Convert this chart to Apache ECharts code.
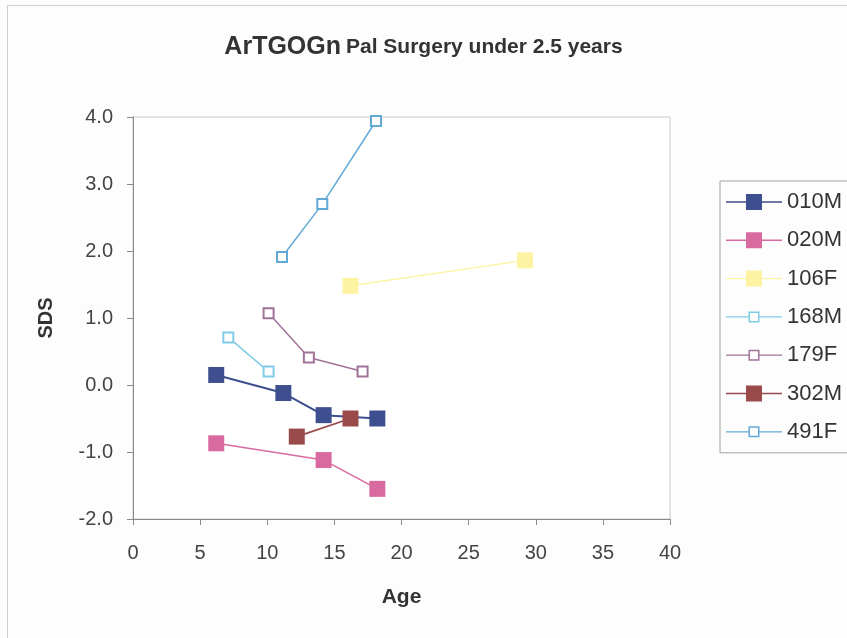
<!DOCTYPE html>
<html>
<head>
<meta charset="utf-8">
<script src="https://cdn.jsdelivr.net/npm/echarts@6/dist/echarts.min.js"></script>
<style>
html,body{margin:0;padding:0;background:#fdfdfd;overflow:hidden;}
#wrap{position:relative;width:847px;height:638px;}
#chart{position:absolute;left:0;top:0;width:847px;height:638px;}
#frame{position:absolute;left:7px;top:5px;width:900px;height:700px;border:1px solid #cfcfcf;pointer-events:none;}
</style>
</head>
<body>
<div id="wrap"><div id="chart"></div><div id="frame"></div></div>
<script>
// ---- data ----
const seriesNames = ['010M', '020M', '106F', '168M', '179F', '302M', '491F'];
const age_010M = [6.2, 11.2, 14.2, 18.2];
const sds_010M = [0.15, -0.12, -0.45, -0.50];
const age_020M = [6.2, 14.2, 18.2];
const sds_020M = [-0.87, -1.12, -1.55];
const age_106F = [16.2, 29.2];
const sds_106F = [1.48, 1.86];
const age_168M = [7.1, 10.1];
const sds_168M = [0.71, 0.20];
const age_179F = [10.1, 13.1, 17.1];
const sds_179F = [1.07, 0.41, 0.20];
const age_302M = [12.2, 16.2];
const sds_302M = [-0.77, -0.50];
const age_491F = [11.1, 14.1, 18.1];
const sds_491F = [1.91, 2.70, 3.94];
const xTicks = [0, 5, 10, 15, 20, 25, 30, 35, 40];
const yTicks = [-2, -1, 0, 1, 2, 3, 4];

const ages = {'010M': age_010M, '020M': age_020M, '106F': age_106F, '168M': age_168M, '179F': age_179F, '302M': age_302M, '491F': age_491F};
const sdss = {'010M': sds_010M, '020M': sds_020M, '106F': sds_106F, '168M': sds_168M, '179F': sds_179F, '302M': sds_302M, '491F': sds_491F};

// ---- styles ----
const colors = {'010M': '#3d4f8e', '020M': '#d96aa0', '106F': '#fdf3a2', '168M': '#80cbe6', '179F': '#a07399', '302M': '#9b4a4c', '491F': '#62aad6'};
const filled = {'010M': true, '020M': true, '106F': true, '168M': false, '179F': false, '302M': true, '491F': false};
const lineW = {'010M': 2, '020M': 1.5, '106F': 1.5, '168M': 1.5, '179F': 1.5, '302M': 1.8, '491F': 1.5};

const iconFilled = 'path://M0 0Z M56 16Z M0 7.3H20V8.7H0Z M36 7.3H56V8.7H36Z M20 0H36V16H20Z';
const iconOpen = 'path://M0 0Z M56 16Z M0 7.4H22.5V8.6H0Z M33.5 7.4H56V8.6H33.5Z M22.5 2.5H33.5V13.5H22.5Z M24 4V12H32V4Z';

const series = seriesNames.map(function (n) {
  const data = ages[n].map(function (a, i) { return [a, sdss[n][i]]; });
  return {
    name: n,
    type: 'line',
    data: data,
    symbol: filled[n] ? 'rect' : 'emptyRect',
    symbolSize: filled[n] ? 16 : 10,
    showAllSymbol: true,
    lineStyle: {color: colors[n], width: lineW[n]},
    itemStyle: filled[n] ? {color: colors[n], borderWidth: 0} : {color: colors[n], borderColor: colors[n], borderWidth: 1.6},
    emphasis: {disabled: true},
    animation: false
  };
});

const chart = echarts.init(document.getElementById('chart'), null, {renderer: 'canvas'});
chart.setOption({
  backgroundColor: '#fdfdfd',
  animation: false,
  title: {
    left: 'center',
    top: 30,
    text: '{a|ArTGOGn} {b|Pal Surgery under 2.5 years}',
    textStyle: {
      rich: {
        a: {fontFamily: 'Liberation Sans', fontWeight: 'bold', fontSize: 25, color: '#333'},
        b: {fontFamily: 'Liberation Sans', fontWeight: 'bold', fontSize: 21, color: '#333'}
      }
    }
  },
  grid: {left: 133, top: 117, width: 537, height: 402, show: true, borderColor: '#c8c8c8', borderWidth: 1, backgroundColor: '#ffffff', containLabel: false},
  legend: {
    orient: 'vertical',
    left: 720,
    top: 181,
    itemWidth: 56,
    itemHeight: 16,
    itemGap: 16.3,
    padding: [10, 40, 10, 6],
    borderColor: '#a0a0a0',
    borderWidth: 1,
    backgroundColor: '#fdfdfd',
    selectedMode: false,
    textStyle: {fontFamily: 'Liberation Sans', fontSize: 22, color: '#333', padding: [0, 0, 0, 0]},
    data: seriesNames.map(function (n) {
      return {name: n, icon: filled[n] ? iconFilled : iconOpen, itemStyle: {color: colors[n], borderWidth: 0}};
    })
  },
  xAxis: {
    type: 'value',
    min: xTicks[0],
    max: xTicks[xTicks.length - 1],
    interval: 5,
    name: 'Age',
    nameLocation: 'middle',
    nameGap: 68,
    nameTextStyle: {fontFamily: 'Liberation Sans', fontWeight: 'bold', fontSize: 21, color: '#333'},
    axisLine: {show: true, onZero: false, lineStyle: {color: '#8a8a8a', width: 1}},
    axisTick: {show: true, inside: false, length: 6, lineStyle: {color: '#8a8a8a'}},
    axisLabel: {margin: 24, fontFamily: 'Liberation Sans', fontSize: 20, color: '#444'},
    splitLine: {show: false}
  },
  yAxis: {
    type: 'value',
    min: yTicks[0],
    max: yTicks[yTicks.length - 1],
    interval: 1,
    name: 'SDS',
    nameLocation: 'middle',
    nameGap: 77,
    nameRotate: 90,
    nameTextStyle: {fontFamily: 'Liberation Sans', fontWeight: 'bold', fontSize: 20, color: '#333'},
    axisLine: {show: true, onZero: false, lineStyle: {color: '#8a8a8a', width: 1}},
    axisTick: {show: true, inside: false, length: 6, lineStyle: {color: '#8a8a8a'}},
    axisLabel: {margin: 20, fontFamily: 'Liberation Sans', fontSize: 20, color: '#444', formatter: function (v) { return v.toFixed(1); }},
    splitLine: {show: false}
  },
  series: series
});
</script>
</body>
</html>
